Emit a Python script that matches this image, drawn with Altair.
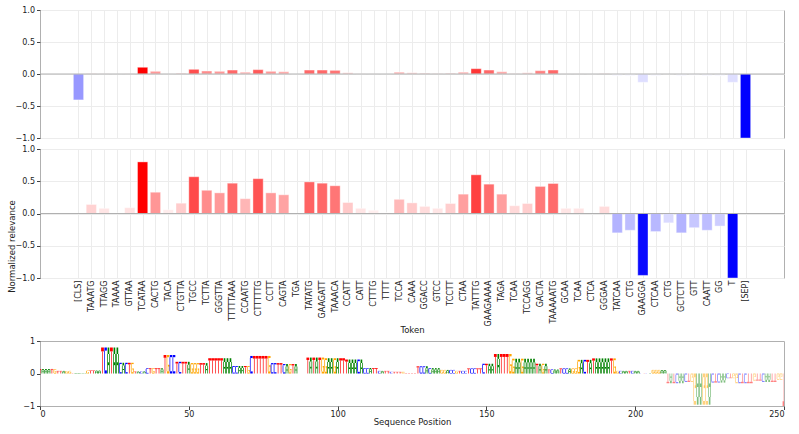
import json
import altair as alt
import pandas as pd

tokens = ["[CLS]", "TAAATG", "TTAGG", "TAAAA", "GTTAA", "TCATAA", "CACTG", "TACA",
          "CTGTTA", "TGCC", "TCTTA", "GGGTTA", "TTTTTAAA", "CCAATG", "CTTTTTG", "CCTT",
          "CAGTA", "TGA", "TATATG", "GAAGATT", "TAAACA", "CCATT", "CATT", "CTTTG",
          "TTTT", "TCCA", "CAAA", "GGACC", "GTCC", "TCCTT", "CTAA", "TATTTG",
          "GAAGAAAA", "TAGA", "TCAA", "TCCAGG", "GACTA", "TAAAAATG", "GCAA", "TCAA",
          "CTCA", "GGGAA", "TATCAA", "CTG", "GAAGGA", "CTCAA", "CTG", "GCTCTT",
          "GTT", "CAATT", "GG", "T", "[SEP]"]

top_vals = [-0.405, 0.01, 0.005, 0.002, 0.005, 0.105, 0.042, 0.002,
            0.015, 0.073, 0.047, 0.042, 0.062, 0.03, 0.068, 0.042,
            0.036, 0.0, 0.062, 0.062, 0.057, 0.02, 0.005, 0.003,
            0.002, 0.03, 0.02, 0.015, 0.01, 0.015, 0.03, 0.083,
            0.062, 0.036, 0.01, 0.02, 0.052, 0.062, 0.004, 0.004,
            0.0, 0.01, -0.03, -0.03, -0.13, -0.03, -0.005, -0.03,
            -0.02, -0.03, -0.03, -0.13, -1.0]

mid_vals = [0.0, 0.14, 0.08, 0.01, 0.09, 0.80, 0.33, 0.06,
            0.16, 0.57, 0.36, 0.32, 0.47, 0.23, 0.54, 0.32,
            0.29, 0.0, 0.49, 0.47, 0.43, 0.17, 0.08, 0.05,
            0.015, 0.22, 0.165, 0.11, 0.08, 0.155, 0.30, 0.60,
            0.455, 0.30, 0.12, 0.155, 0.42, 0.465, 0.08, 0.08,
            0.005, 0.11, -0.30, -0.26, -0.96, -0.28, -0.145, -0.30,
            -0.22, -0.26, -0.195, -1.0, 0.0]

seq_ticks = [0, 50, 100, 150, 200, 250]
rel_ticks = [-1.0, -0.5, 0.0, 0.5, 1.0]
logo_ticks = [-1, 0, 1]

FONT = "DejaVu Sans"
GRID = "#ececec"
FRAME = "#b0b0b0"
W = 744


def bar_frame(vals):
    pmax = max(v for v in vals if v > 0)
    nmax = -min(v for v in vals if v < 0)
    rows = []
    for i, (t, v) in enumerate(zip(tokens, vals)):
        if v > 0:
            norm = v / pmax
        elif v < 0:
            norm = v / nmax
        else:
            norm = 0.0
        rows.append(dict(idx=i, token=t, value=v, norm=norm))
    return pd.DataFrame(rows)


label_expr = json.dumps(tokens) + "[datum.value]"


def bar_panel(vals, height, show_labels, ytitle):
    df = bar_frame(vals)
    if show_labels:
        xaxis = alt.Axis(values=list(range(len(tokens))), labelExpr=label_expr,
                         labelAngle=-90, grid=True, gridColor=GRID, domain=False,
                         ticks=False, title="Token", labelPadding=2,
                         titlePadding=0, labelFontSize=8)
    else:
        xaxis = alt.Axis(values=list(range(len(tokens))), labels=False, ticks=False,
                         domain=False, grid=True, gridColor=GRID, title=None,
                         minExtent=0, maxExtent=0)
    yargs = dict(values=rel_ticks, format=".1f", grid=True, gridColor=GRID,
                 domain=False, tickSize=3.5)
    if ytitle:
        yargs.update(title=ytitle, titleX=-24, titleY=97)
    else:
        yargs.update(title=None)
    yaxis = alt.Axis(**yargs)
    yscale = alt.Scale(domain=[-1, 1], nice=False)
    base = alt.Chart(df).transform_calculate(
        x0="datum.idx - 0.4", x1="datum.idx + 0.4"
    )
    bars = base.mark_rect(stroke="white", strokeWidth=0.4).encode(
        x=alt.X("x0:Q", scale=alt.Scale(domain=[-3, 55], nice=False, zero=False), axis=xaxis),
        x2="x1:Q",
        y=alt.Y("value:Q", scale=yscale, axis=yaxis),
        y2=alt.datum(0),
        color=alt.Color("norm:Q", scale=alt.Scale(domain=[-1, 0, 1],
                        range=["#0000ff", "#ffffff", "#ff0000"], interpolate="rgb"),
                        legend=None),
        tooltip=["token:N", "value:Q"],
    )
    zero = alt.Chart(pd.DataFrame({"z": [0.0]})).mark_rule(color=FRAME, strokeWidth=1).encode(
        y=alt.Y("z:Q", scale=yscale, axis=yaxis)
    )
    return alt.layer(bars, zero).properties(width=W, height=height)


# ---- sequence logo ----
seq_letters = []
seq_vals = []
for t, v in zip(tokens, mid_vals):
    if t.startswith("["):
        continue
    for ch in t:
        seq_letters.append(ch)
        seq_vals.append(v)

GLYPHS = {
    "T": [(0.0, 1.0, 0.85, 1.0), (0.38, 0.62, 0.0, 0.85)],
    "A": [(0.0, 0.26, 0.0, 0.75), (0.74, 1.0, 0.0, 0.75), (0.2, 0.8, 0.75, 1.0),
          (0.26, 0.74, 0.32, 0.43)],
    "C": [(0.0, 0.26, 0.12, 0.88), (0.12, 1.0, 0.88, 1.0), (0.12, 1.0, 0.0, 0.12)],
    "G": [(0.0, 0.26, 0.12, 0.88), (0.12, 1.0, 0.88, 1.0), (0.12, 1.0, 0.0, 0.12),
          (0.74, 1.0, 0.12, 0.45), (0.5, 1.0, 0.38, 0.47)],
}
rows = []
for p, (ch, v) in enumerate(zip(seq_letters, seq_vals)):
    if v == 0:
        continue
    for gx0, gx1, gy0, gy1 in GLYPHS[ch]:
        rows.append(dict(pos=p, base=ch, value=v,
                         x0=p - 0.47 + 0.94 * gx0, x1=p - 0.47 + 0.94 * gx1,
                         y0=v * gy0, y1=v * gy1,
                         op=1.0 if v > 0 else 0.5))
logo_df = pd.DataFrame(rows)

logo = alt.Chart(logo_df).mark_rect(clip=True).encode(
    x=alt.X("x0:Q", scale=alt.Scale(domain=[0, 250], nice=False, zero=False),
            axis=alt.Axis(values=seq_ticks, grid=False, domain=False, tickSize=3.5,
                          labelPadding=1, title="Sequence Position", titlePadding=-1)),
    x2="x1:Q",
    y=alt.Y("y0:Q", scale=alt.Scale(domain=[-1, 1], nice=False),
            axis=alt.Axis(values=logo_ticks, format=".0f", grid=False, domain=False,
                          tickSize=3.5, title=None)),
    y2="y1:Q",
    color=alt.Color("base:N", scale=alt.Scale(domain=["A", "C", "G", "T"],
                    range=["#008000", "#0000ff", "#ffa500", "#ff0000"]), legend=None),
    opacity=alt.Opacity("op:Q", scale=None),
).properties(width=W, height=65)

top = bar_panel(top_vals, 128, False, None)
mid = bar_panel(mid_vals, 129, True, "Normalized relevance")

chart = alt.vconcat(top, mid, logo, spacing=1).properties(
    padding={"left": 6, "top": 5, "right": 10, "bottom": 2}
).configure(font=FONT).configure_axis(
    labelFontSize=8, titleFontSize=8.5, titleFontWeight="normal",
    labelColor="#222222", titleColor="#222222", tickColor="#444444",
    labelFont=FONT, titleFont=FONT,
).configure_view(stroke=FRAME, strokeWidth=1)

chart.save("out.html", embed_options={"renderer": "svg", "actions": False})
